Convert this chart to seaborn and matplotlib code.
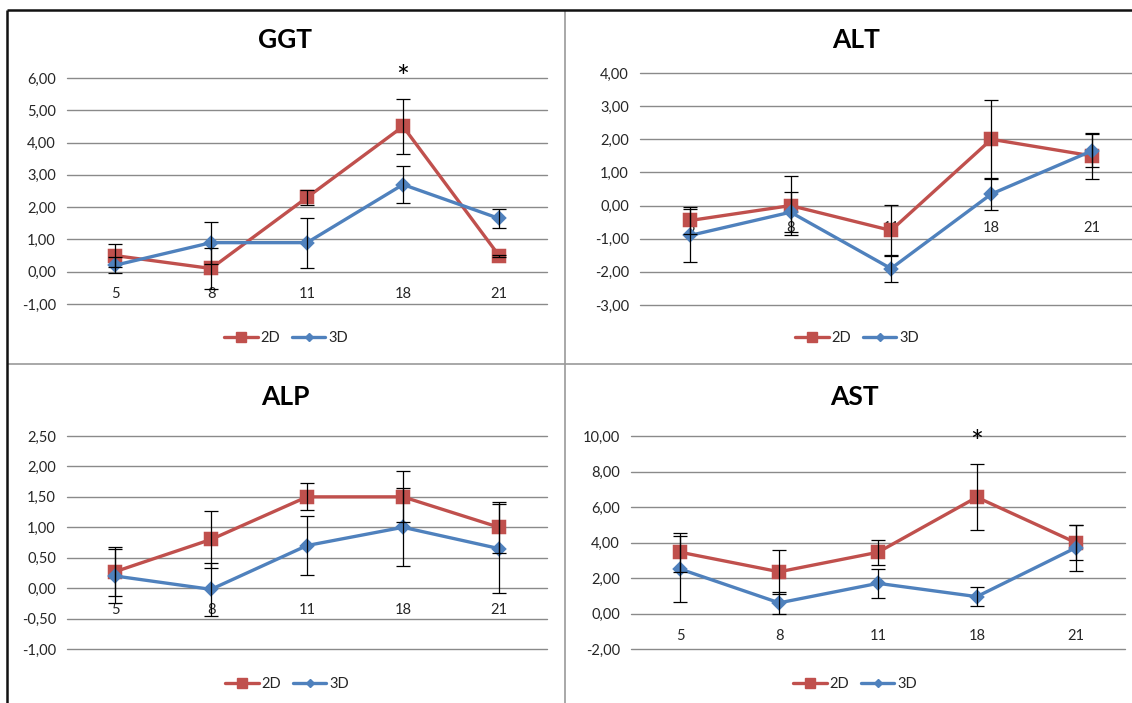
import numpy as np
import pandas as pd
import matplotlib
matplotlib.use("Agg")
import matplotlib.pyplot as plt
from matplotlib.lines import Line2D
from matplotlib.ticker import FuncFormatter, MultipleLocator
import seaborn as sns

# Sampling days (categories) and the two culture groups
days = ["5", "8", "11", "18", "21"]
groups = ["2D", "3D"]

# Enzyme levels (mean and error) per day for each group
ggt_2d = [0.50, 0.10, 2.30, 4.50, 0.50]
ggt_2d_err = [0.35, 0.65, 0.22, 0.85, 0.03]
ggt_3d = [0.20, 0.90, 0.90, 2.70, 1.65]
ggt_3d_err = [0.25, 0.65, 0.77, 0.57, 0.30]

alt_2d = [-0.45, 0.00, -0.75, 2.00, 1.50]
alt_2d_err = [0.40, 0.90, 0.77, 1.20, 0.70]
alt_3d = [-0.90, -0.20, -1.90, 0.35, 1.65]
alt_3d_err = [0.80, 0.60, 0.40, 0.47, 0.50]

alp_2d = [0.27, 0.80, 1.50, 1.50, 1.00]
alp_2d_err = [0.40, 0.47, 0.22, 0.42, 0.42]
alp_3d = [0.20, -0.02, 0.70, 1.00, 0.65]
alp_3d_err = [0.45, 0.44, 0.49, 0.64, 0.73]

ast_2d = [3.45, 2.35, 3.45, 6.55, 4.00]
ast_2d_err = [1.10, 1.25, 0.70, 1.85, 1.00]
ast_3d = [2.50, 0.60, 1.70, 0.95, 3.70]
ast_3d_err = [1.85, 0.62, 0.82, 0.55, 1.30]

titles = ["GGT", "ALT", "ALP", "AST"]
series = {
    "GGT": (ggt_2d, ggt_2d_err, ggt_3d, ggt_3d_err),
    "ALT": (alt_2d, alt_2d_err, alt_3d, alt_3d_err),
    "ALP": (alp_2d, alp_2d_err, alp_3d, alp_3d_err),
    "AST": (ast_2d, ast_2d_err, ast_3d, ast_3d_err),
}
# significance marks: (day, y position)
stars = {"GGT": ("18", 6.0), "AST": ("18", 9.6)}

W, H = 1132, 703

# panel geometry in pixels: left, right, top, bottom of plot area; axis range
layout = {
    "GGT": dict(l=67, r=547, t=78, b=304, ylim=(-1, 6), step=1.0,
                title=(285, 40), legend=(286, 338)),
    "ALT": dict(l=640, r=1142, t=73, b=305, ylim=(-3, 4), step=1.0,
                title=(856, 40), legend=(857, 338)),
    "ALP": dict(l=67, r=547, t=436, b=649, ylim=(-1, 2.5), step=0.5,
                title=(285, 397), legend=(287, 684)),
    "AST": dict(l=631, r=1125, t=436, b=649, ylim=(-2, 10), step=2.0,
                title=(854, 397), legend=(855, 684)),
}

sns.set_theme(style="white")
plt.rcParams["font.family"] = ["Lato", "DejaVu Sans"]

RED = "#C0504D"
BLUE = "#4F81BD"
GRID = "#8a8a8a"
TXT = "#262626"
palette = {"2D": RED, "3D": BLUE}

fig = plt.figure(figsize=(W / 100, H / 100), dpi=100)
fig.patch.set_facecolor("white")

comma = FuncFormatter(lambda v, p: f"{v:.2f}".replace(".", ","))

for name in titles:
    g = layout[name]
    v2, e2, v3, e3 = series[name]
    ax = fig.add_axes([g["l"] / W, 1 - g["b"] / H,
                       (g["r"] - g["l"]) / W, (g["b"] - g["t"]) / H])
    ax.set_facecolor("none")

    df = pd.DataFrame({
        "day": days * 2,
        "group": ["2D"] * len(days) + ["3D"] * len(days),
        "value": list(v2) + list(v3),
        "err": list(e2) + list(e3),
    })

    for grp, mk, ms in (("2D", "s", 8.5), ("3D", "D", 6.5)):
        sub = df[df["group"] == grp]
        sns.pointplot(data=sub, x="day", y="value", order=days,
                      color=palette[grp], markers=mk, linestyles="-",
                      errorbar=None, markersize=ms, linewidth=2.4,
                      ax=ax, legend=False)
        pos = [days.index(d) for d in sub["day"]]
        ax.errorbar(pos, sub["value"], yerr=sub["err"], fmt="none",
                    ecolor="black", elinewidth=0.9, capsize=5,
                    capthick=0.9, zorder=6)

    ax.set_xlim(-0.5, len(days) - 0.5)
    ax.set_ylim(*g["ylim"])
    ax.yaxis.set_major_locator(MultipleLocator(g["step"]))
    ax.yaxis.set_major_formatter(comma)
    ax.grid(axis="y", color=GRID, linewidth=1.0)
    ax.grid(axis="x", visible=False)
    ax.set_axisbelow(True)
    for s in ("top", "right", "left"):
        ax.spines[s].set_visible(False)
    ax.spines["bottom"].set_position(("data", 0))
    ax.spines["bottom"].set_visible(False)
    ax.set_xlabel("")
    ax.set_ylabel("")
    ax.tick_params(axis="y", length=0, pad=8, labelsize=10.5, labelcolor=TXT)
    ax.tick_params(axis="x", length=0, pad=11, labelsize=10.5, labelcolor=TXT)
    for gl in ax.get_ygridlines():
        gl.set_clip_on(False)

    if name in stars:
        d, y = stars[name]
        ax.text(days.index(d), y, "*", ha="center", va="center",
                fontsize=22, color="black", clip_on=False)

    tx, ty = g["title"]
    fig.text(tx / W, 1 - ty / H, name, ha="center", va="center",
             fontsize=19, fontweight="bold", color="black")

    handles = [
        Line2D([], [], color=RED, lw=2.4, marker="s", markersize=6.5),
        Line2D([], [], color=BLUE, lw=2.4, marker="D", markersize=4.5),
    ]
    lx, ly = g["legend"]
    fig.legend(handles, groups, loc="center",
               bbox_to_anchor=(lx / W, 1 - ly / H), ncol=2, frameon=False,
               fontsize=10.5, handlelength=2.3, handletextpad=0.2,
               columnspacing=0.8, labelcolor=TXT)

# outer frame and panel dividers
def fline(x0, y0, x1, y1, color, lw):
    fig.add_artist(Line2D([x0 / W, x1 / W], [1 - y0 / H, 1 - y1 / H],
                          transform=fig.transFigure, color=color, lw=lw,
                          solid_capstyle="butt"))

fline(565, 10, 565, H, "#9a9a9a", 1.2)
fline(7, 363.5, W, 363.5, "#9a9a9a", 1.2)
fline(7, 9.5, W, 9.5, "#111111", 1.8)
fline(7, 9.5, 7, H, "#111111", 1.8)

fig.savefig("out.png", dpi=100, facecolor="white")
